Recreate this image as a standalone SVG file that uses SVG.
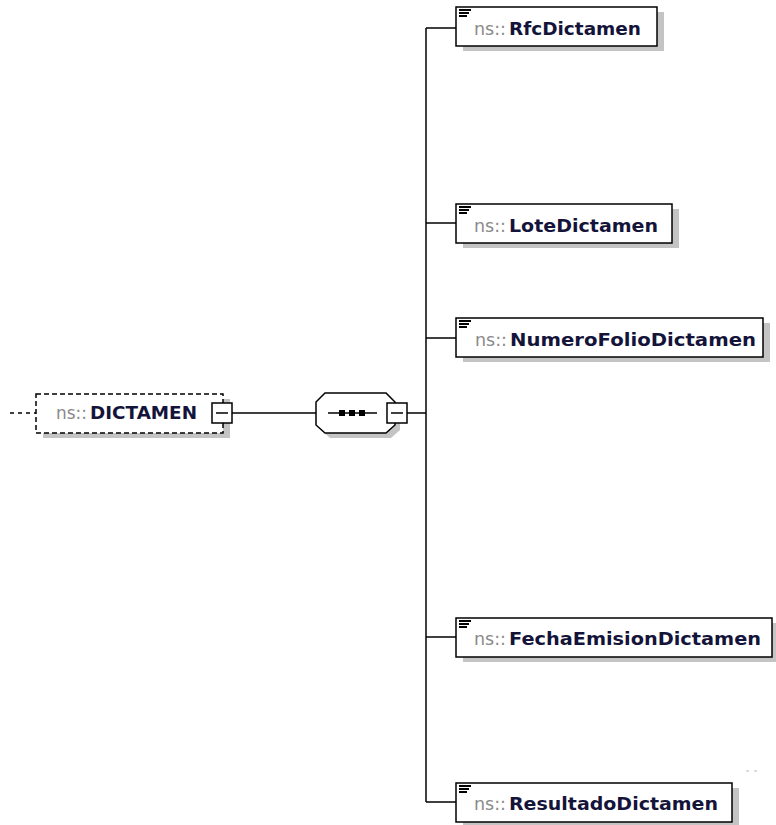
<svg xmlns="http://www.w3.org/2000/svg" width="776" height="825" viewBox="0 0 776 825">
<style>
.box{fill:#fff;stroke:#000;stroke-width:1.5}
.shadow{fill:#c4c4c4}
.line{stroke:#000;stroke-width:1.5;fill:none}
.pre{font-family:"DejaVu Sans",sans-serif;font-size:18px;fill:#8a8a8a}
.name{font-family:"DejaVu Sans",sans-serif;font-size:18px;font-weight:bold;fill:#14143a}
.icon{stroke:#000;stroke-width:2}
</style>
<defs>
<g id="ico">
<line class="icon" x1="0" y1="0" x2="12" y2="0"/>
<line class="icon" x1="0" y1="3" x2="10" y2="3"/>
<line class="icon" x1="0" y1="6" x2="8" y2="6"/>
</g>
</defs>
<rect width="776" height="825" fill="#fff"/>

<g id="connectors">
<line x1="10" y1="413" x2="36" y2="413" stroke="#000" stroke-width="1.5" stroke-dasharray="4 4"/>
<line class="line" x1="232" y1="413" x2="316" y2="413"/>
<line class="line" x1="407" y1="413" x2="426" y2="413"/>
<line class="line" x1="426" y1="28" x2="426" y2="802"/>
<line class="line" x1="426" y1="28" x2="456" y2="28"/>
<line class="line" x1="426" y1="223" x2="456" y2="223"/>
<line class="line" x1="426" y1="338" x2="456" y2="338"/>
<line class="line" x1="426" y1="637" x2="456" y2="637"/>
<line class="line" x1="426" y1="802" x2="456" y2="802"/>
<line x1="746" y1="771" x2="760" y2="771" stroke="#c9d3df" stroke-width="1.5" stroke-dasharray="3 5"/>
</g>

<g id="DICTAMEN">
<rect class="shadow" x="43" y="399" width="187" height="39"/>
<rect x="36" y="394" width="187" height="39" fill="#fff" stroke="#000" stroke-width="1.5" stroke-dasharray="5 3"/>
<text class="pre" x="56" y="419" textLength="31" lengthAdjust="spacingAndGlyphs">ns::</text>
<text class="name" x="90" y="419" textLength="107" lengthAdjust="spacingAndGlyphs">DICTAMEN</text>
<rect class="box" x="212" y="403" width="20" height="20"/>
<line class="line" x1="216" y1="413" x2="228" y2="413"/>
</g>

<g id="sequence">
<polygon class="shadow" points="330,398 391,398 400,407 400,430 391,438 330,438 321,430 321,407"/>
<polygon class="box" points="325,393 386,393 395,402 395,425 386,433 325,433 316,425 316,402"/>
<line class="line" x1="328" y1="413" x2="377" y2="413"/>
<rect x="339" y="410" width="6" height="6" fill="#000"/>
<rect x="349" y="410" width="6" height="6" fill="#000"/>
<rect x="359" y="410" width="6" height="6" fill="#000"/>
<rect class="box" x="387" y="403" width="20" height="20"/>
<line class="line" x1="391" y1="413" x2="403" y2="413"/>
</g>

<g id="RfcDictamen">
<rect class="shadow" x="463" y="12" width="201" height="39"/>
<rect class="box" x="456" y="7" width="201" height="39"/>
<use href="#ico" x="459" y="10"/>
<text class="pre" x="474" y="35" textLength="32" lengthAdjust="spacingAndGlyphs">ns::</text>
<text class="name" x="509" y="35" textLength="132" lengthAdjust="spacingAndGlyphs">RfcDictamen</text>
</g>

<g id="LoteDictamen">
<rect class="shadow" x="463" y="209" width="216" height="39"/>
<rect class="box" x="456" y="204" width="216" height="39"/>
<use href="#ico" x="459" y="207"/>
<text class="pre" x="474" y="232" textLength="32" lengthAdjust="spacingAndGlyphs">ns::</text>
<text class="name" x="509" y="232" textLength="149" lengthAdjust="spacingAndGlyphs">LoteDictamen</text>
</g>

<g id="NumeroFolioDictamen">
<rect class="shadow" x="463" y="323" width="307" height="39"/>
<rect class="box" x="456" y="318" width="307" height="39"/>
<use href="#ico" x="459" y="321"/>
<text class="pre" x="475" y="346" textLength="32" lengthAdjust="spacingAndGlyphs">ns::</text>
<text class="name" x="510" y="346" textLength="246" lengthAdjust="spacingAndGlyphs">NumeroFolioDictamen</text>
</g>

<g id="FechaEmisionDictamen">
<rect class="shadow" x="463" y="623" width="316" height="39"/>
<rect class="box" x="456" y="618" width="316" height="39"/>
<use href="#ico" x="459" y="621"/>
<text class="pre" x="474" y="645" textLength="32" lengthAdjust="spacingAndGlyphs">ns::</text>
<text class="name" x="509" y="645" textLength="252" lengthAdjust="spacingAndGlyphs">FechaEmisionDictamen</text>
</g>

<g id="ResultadoDictamen">
<rect class="shadow" x="463" y="788" width="276" height="39"/>
<rect class="box" x="456" y="783" width="276" height="39"/>
<use href="#ico" x="459" y="786"/>
<text class="pre" x="474" y="810" textLength="32" lengthAdjust="spacingAndGlyphs">ns::</text>
<text class="name" x="509" y="810" textLength="209" lengthAdjust="spacingAndGlyphs">ResultadoDictamen</text>
</g>
</svg>
